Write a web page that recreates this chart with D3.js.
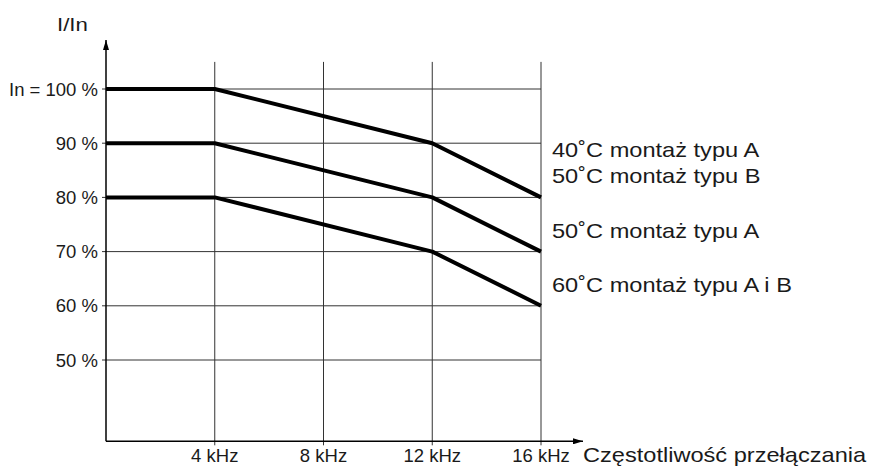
<!DOCTYPE html>
<html lang="pl">
<head>
    <meta charset="UTF-8">
    <title>I/In vs częstotliwość przełączania</title>
    <script src="https://cdn.jsdelivr.net/npm/d3@7"></script>
    <style>
        body { margin: 0; background: #fff; }
        svg text { font-family: "Liberation Sans", Arial, Helvetica, sans-serif; fill: #1a1a1a; }
    </style>
</head>
<body>
    <div id="chart"></div>
    <script>
        // chart data
        const freqs = [0, 4, 12, 16];              // kHz, break points of the derating curves
        const curveTop = [100, 100, 90, 80];
        const curveMid = [90, 90, 80, 70];
        const curveLow = [80, 80, 70, 60];
        const curveLabels = [
            ['40˚C montaż typu A', '50˚C montaż typu B'],
            ['50˚C montaż typu A'],
            ['60˚C montaż typu A i B']
        ];
        const xTicks = [4, 8, 12, 16];
        const xTickLabels = ['4 kHz', '8 kHz', '12 kHz', '16 kHz'];
        const yTicks = [50, 60, 70, 80, 90, 100];
        const yTickLabels = ['50 %', '60 %', '70 %', '80 %', '90 %', 'In = 100 %'];
        const yAxisTitle = 'I/In';
        const xAxisTitle = 'Częstotliwość przełączania';

        const width = 872, height = 472;

        const svg = d3.select('#chart')
            .append('svg')
            .attr('width', width)
            .attr('height', height);

        const x = d3.scaleLinear().domain([0, 16]).range([106, 541]);
        const y = d3.scaleLinear().domain([50, 100]).range([360, 89]);

        const x0 = x(0);
        const yBase = y(35);      // x axis sits below the 50 % line
        const gridTop = y(105);

        // horizontal grid
        svg.append('g')
            .selectAll('line')
            .data(yTicks)
            .enter()
            .append('line')
            .attr('x1', x0 - 4)
            .attr('x2', x(16))
            .attr('y1', d => y(d))
            .attr('y2', d => y(d))
            .attr('stroke', '#333')
            .attr('stroke-width', 1);

        // vertical grid
        svg.append('g')
            .selectAll('line')
            .data(xTicks)
            .enter()
            .append('line')
            .attr('x1', d => x(d))
            .attr('x2', d => x(d))
            .attr('y1', gridTop)
            .attr('y2', yBase + 4)
            .attr('stroke', '#333')
            .attr('stroke-width', 1);

        // axes with arrows
        const defs = svg.append('defs');
        defs.append('marker')
            .attr('id', 'arrow')
            .attr('viewBox', '0 0 10 6')
            .attr('refX', 10)
            .attr('refY', 3)
            .attr('markerWidth', 10)
            .attr('markerHeight', 6)
            .attr('markerUnits', 'userSpaceOnUse')
            .attr('orient', 'auto')
            .append('path')
            .attr('d', 'M0,0 L10,3 L0,6 Z')
            .attr('fill', '#000');

        svg.append('line')
            .attr('x1', x0).attr('y1', yBase)
            .attr('x2', x0).attr('y2', y(100) - 49)
            .attr('stroke', '#000')
            .attr('stroke-width', 1.5)
            .attr('marker-end', 'url(#arrow)');

        svg.append('line')
            .attr('x1', x0).attr('y1', yBase)
            .attr('x2', x(16) + 42).attr('y2', yBase)
            .attr('stroke', '#000')
            .attr('stroke-width', 1.5)
            .attr('marker-end', 'url(#arrow)');

        // tick labels
        svg.append('g')
            .selectAll('text')
            .data(yTicks)
            .enter()
            .append('text')
            .attr('x', x0 - 8)
            .attr('y', d => y(d))
            .attr('dy', '0.36em')
            .attr('text-anchor', 'end')
            .style('font-size', '18.5px')
            .text((d, i) => yTickLabels[i]);

        svg.append('g')
            .selectAll('text')
            .data(xTicks)
            .enter()
            .append('text')
            .attr('x', d => x(d))
            .attr('y', yBase + 21)
            .attr('text-anchor', 'middle')
            .style('font-size', '18.5px')
            .text((d, i) => xTickLabels[i]);

        // axis titles (the original lettering is a bit wide, hence the x stretch)
        svg.append('text')
            .attr('transform', `translate(57,31) scale(1.17,1)`)
            .style('font-size', '19px')
            .text(yAxisTitle);

        svg.append('text')
            .attr('transform', `translate(${x(16) + 42},${yBase + 21}) scale(1.18,1)`)
            .style('font-size', '20px')
            .text(xAxisTitle);

        // derating curves
        const line = d3.line()
            .x((d, i) => x(freqs[i]))
            .y(d => y(d));

        const curves = [curveTop, curveMid, curveLow];

        svg.append('g')
            .selectAll('path')
            .data(curves)
            .enter()
            .append('path')
            .attr('d', line)
            .attr('fill', 'none')
            .attr('stroke', '#000')
            .attr('stroke-width', 4)
            .attr('stroke-linejoin', 'round');

        // labels at the right end of each curve
        curves.forEach((c, k) => {
            const lines = curveLabels[k];
            const yEnd = y(c[c.length - 1]);
            lines.forEach((t, i) => {
                const by = yEnd - 14 - (lines.length - 1 - i) * 26;
                svg.append('text')
                    .attr('transform', `translate(${x(16) + 11},${by}) scale(1.18,1)`)
                    .style('font-size', '20px')
                    .text(t);
            });
        });
    </script>
</body>
</html>
